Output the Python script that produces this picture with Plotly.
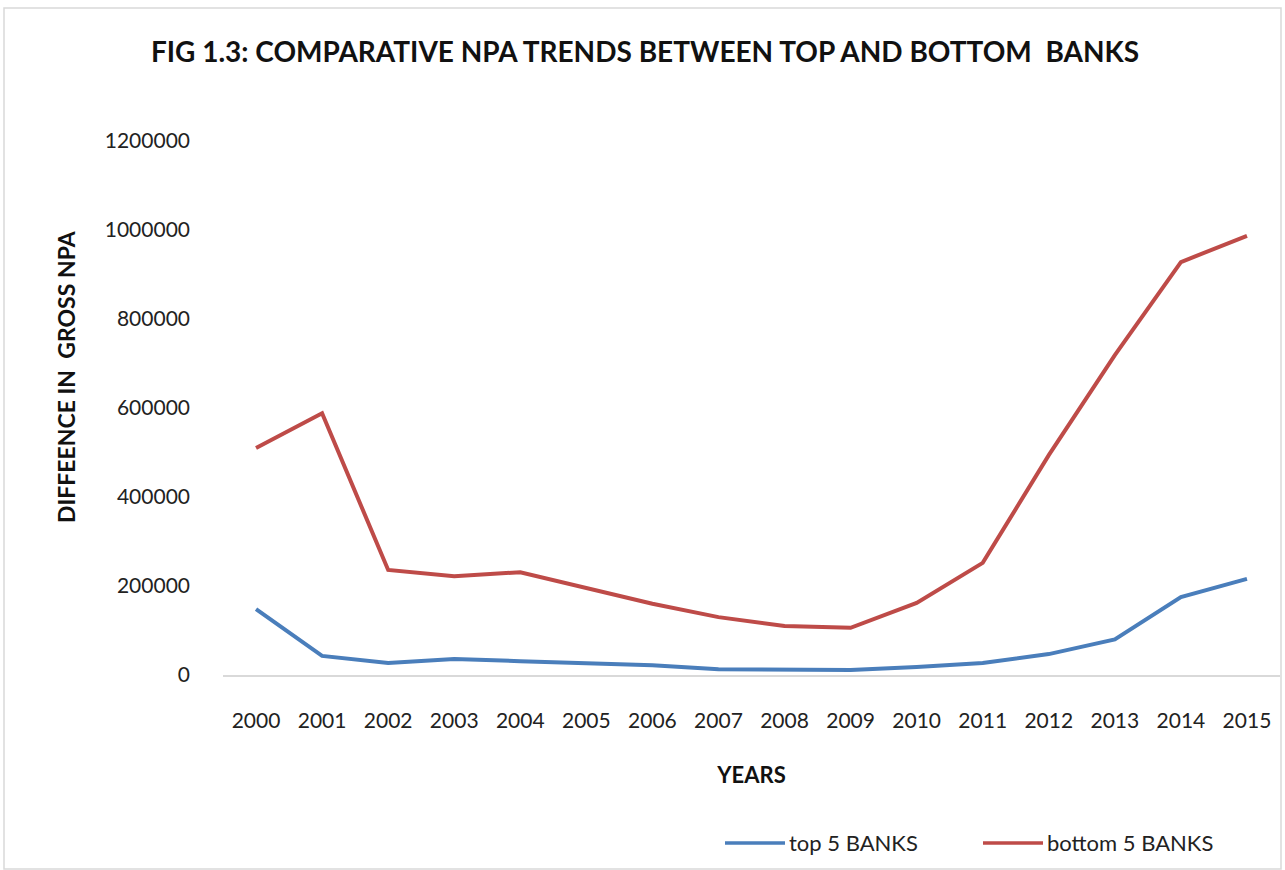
import plotly.graph_objects as go

# Years on the category axis
years = [str(y) for y in range(2000, 2016)]

# Difference in gross NPA, by bank group
top5 = [148000, 43000, 27000, 36000, 31000, 27000, 22000, 13000,
        11000, 11000, 18000, 27000, 47000, 80000, 175000, 216000]
bottom5 = [510000, 588000, 236000, 222000, 231000, 195000, 160000, 130000,
           110000, 106000, 162000, 252000, 494000, 719000, 928000, 987000]

y_ticks = [0, 200000, 400000, 600000, 800000, 1000000, 1200000]

series_names = ["top 5 BANKS", "bottom 5 BANKS"]
series_colors = ["#4A7EBB", "#BE4B48"]

W, H = 1285, 870
ML, MR, MT, MB = 223, 5, 141, 195
pw = W - ML - MR
ph = H - MT - MB


def px_x(x):
    return (x - ML) / pw


def px_y(y):
    return (H - MB - y) / ph


fig = go.Figure()
for name, vals, col in zip(series_names, [top5, bottom5], series_colors):
    fig.add_trace(go.Scatter(x=years, y=vals, mode="lines", name=name,
                             line=dict(color=col, width=4), showlegend=False))

shapes = []
# light frame around the whole chart
shapes.append(dict(type="rect", xref="paper", yref="paper",
                   x0=px_x(4), x1=px_x(1281), y0=px_y(869), y1=px_y(8),
                   line=dict(color="#D9D9D9", width=1.5),
                   fillcolor="rgba(0,0,0,0)", layer="below"))

annotations = []
# vertical axis title
annotations.append(dict(text="<b>DIFFEENCE IN  GROSS NPA</b>", xref="paper", yref="paper",
                        x=px_x(66), y=px_y(377), xanchor="center", yanchor="middle",
                        textangle=-90, showarrow=False,
                        font=dict(size=23, color="#111111")))

# legend drawn below the plot: line sample followed by its label
legend_pos = [(725, 785), (983, 1043)]
for (lx0, lx1), name, col in zip(legend_pos, series_names, series_colors):
    shapes.append(dict(type="line", xref="paper", yref="paper",
                       x0=px_x(lx0), x1=px_x(lx1), y0=px_y(843), y1=px_y(843),
                       line=dict(color=col, width=3.5)))
    annotations.append(dict(text=name, xref="paper", yref="paper",
                            x=px_x(lx1 + 2), y=px_y(843), xanchor="left", yanchor="middle",
                            showarrow=False, font=dict(size=22, color="#222222")))

fig.update_layout(
    width=W, height=H,
    margin=dict(l=ML, r=MR, t=MT, b=MB, autoexpand=False),
    paper_bgcolor="white", plot_bgcolor="white",
    font=dict(family="Lato, Open Sans, sans-serif", color="#404040"),
    title=dict(text="<b>FIG 1.3: COMPARATIVE NPA TRENDS BETWEEN TOP AND BOTTOM  BANKS</b>",
               x=645 / W, xref="container", xanchor="center", y=1 - 52 / H, yanchor="middle",
               font=dict(size=28, color="#111111", family="Lato, sans-serif")),
    xaxis=dict(type="category", categoryorder="array", categoryarray=years,
               range=[-0.5, 15.5], showgrid=False, showline=True, linecolor="#D9D9D9",
               linewidth=1.5, ticks="", tickfont=dict(size=21, color="#222222"),
               ticklabelstandoff=26, zeroline=False,
               title=dict(text="<b>YEARS</b>", font=dict(size=22, color="#111111"), standoff=37)),
    yaxis=dict(range=[0, 1200000], tickvals=y_ticks, ticktext=[str(v) for v in y_ticks],
               showgrid=False, showline=False, zeroline=False, ticks="",
               tickfont=dict(size=21, color="#222222"), ticklabelstandoff=32),
    shapes=shapes,
    annotations=annotations,
    showlegend=False,
)

fig.write_html("out.html")
